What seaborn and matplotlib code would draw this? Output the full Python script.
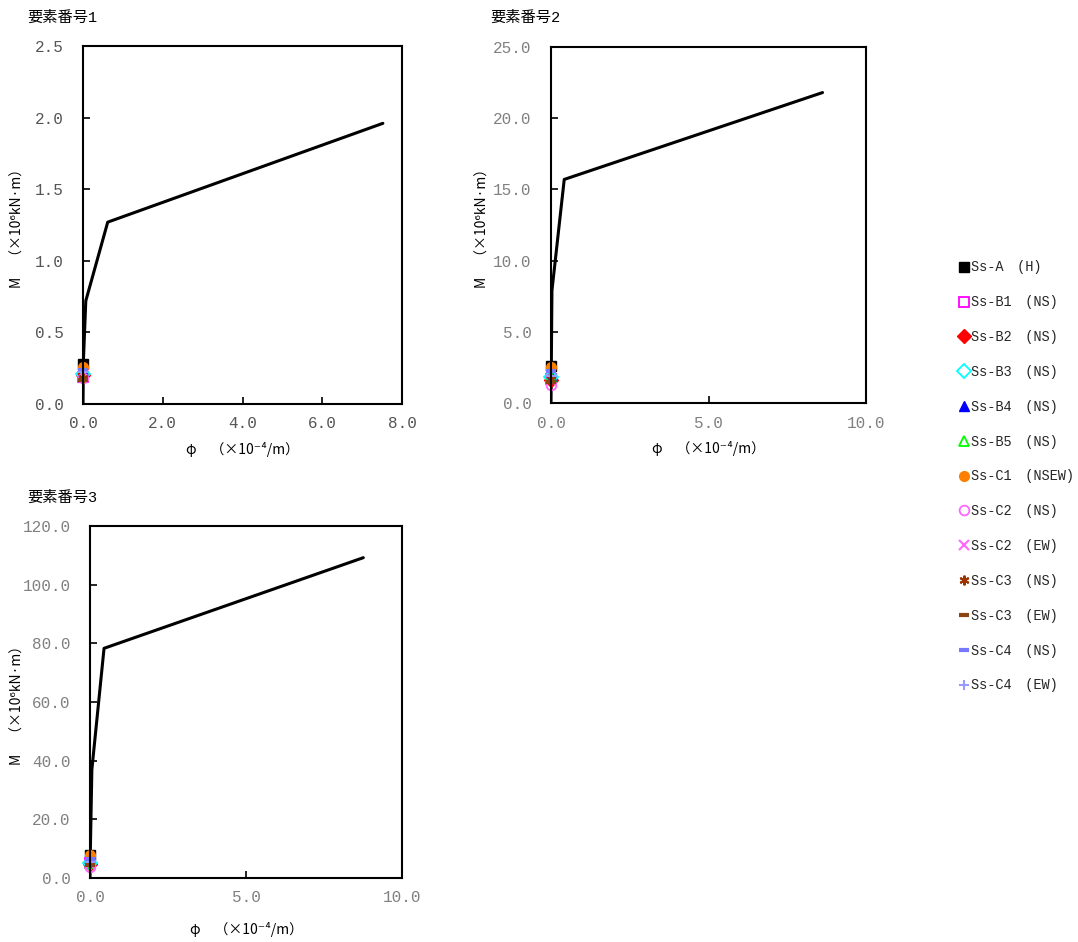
import numpy as np
import matplotlib
matplotlib.use("Agg")
import matplotlib.pyplot as plt
import seaborn as sns

# skeleton curves (phi x1e-4/m, M x1e6 kN.m)
phi_skel_1 = [0.0, 0.01, 0.07, 0.62, 7.52]
m_skel_1 = [0.0, 0.30, 0.72, 1.27, 1.96]
phi_skel_2 = [0.0, 0.01, 0.03, 0.42, 8.62]
m_skel_2 = [0.0, 2.7, 7.9, 15.7, 21.8]
phi_skel_3 = [0.0, 0.01, 0.06, 0.45, 8.76]
m_skel_3 = [0.0, 8.5, 37.0, 78.3, 109.2]

# response points per earthquake
eq_labels = ["Ss-A\u3000(H)", "Ss-B1\u3000(NS)", "Ss-B2\u3000(NS)", "Ss-B3\u3000(NS)",
             "Ss-B4\u3000(NS)", "Ss-B5\u3000(NS)", "Ss-C1\u3000(NSEW)", "Ss-C2\u3000(NS)",
             "Ss-C2\u3000(EW)", "Ss-C3\u3000(NS)", "Ss-C3\u3000(EW)", "Ss-C4\u3000(NS)",
             "Ss-C4\u3000(EW)"]
phi_resp_1 = [0.012, 0.008, 0.008, 0.009, 0.009, 0.009, 0.011, 0.007, 0.009, 0.008, 0.007, 0.010, 0.009]
m_resp_1 = [0.28, 0.19, 0.20, 0.21, 0.22, 0.20, 0.26, 0.18, 0.21, 0.18, 0.17, 0.24, 0.22]
phi_resp_2 = [0.010, 0.006, 0.006, 0.007, 0.007, 0.007, 0.009, 0.005, 0.006, 0.006, 0.005, 0.008, 0.007]
m_resp_2 = [2.6, 1.7, 1.6, 1.8, 1.9, 1.8, 2.5, 1.25, 1.6, 1.7, 1.45, 2.25, 1.9]
phi_resp_3 = [0.012, 0.008, 0.008, 0.008, 0.009, 0.008, 0.012, 0.006, 0.008, 0.008, 0.007, 0.010, 0.009]
m_resp_3 = [7.8, 5.0, 4.8, 5.2, 5.6, 5.2, 8.0, 3.8, 4.8, 5.0, 4.5, 6.6, 5.5]

# marker styles: (marker, color, filled)
styles = [("s", "#000000", True), ("s", "#FF00FF", False), ("D", "#FF0000", True),
          ("D", "#00FFFF", False), ("^", "#0000FF", True), ("^", "#00FF00", False),
          ("o", "#FF7F00", True), ("o", "#FF66FF", False), ("x", "#FF66FF", True),
          ((6, 2, 0), "#993300", True), ("_", "#8B4513", True), ("_", "#7777FF", True),
          ("+", "#9999FF", True)]

sns.set_theme(style="white")
plt.rcParams["font.family"] = ["Liberation Mono", "Noto Sans CJK JP", "DejaVu Sans"]
plt.rcParams["axes.unicode_minus"] = False
label_family = ["Noto Sans CJK JP", "DejaVu Sans"]

fig = plt.figure(figsize=(10.78, 9.42), dpi=100)

panels = [
    dict(rect=[83 / 1078, 1 - 404 / 942, 319 / 1078, 358 / 942], title="要素番号1", tpos=(27, 18),
         skel=(phi_skel_1, m_skel_1), resp=(phi_resp_1, m_resp_1),
         xlim=8.0, xticks=[0, 2, 4, 6, 8], ylim=2.5, yticks=np.arange(0, 2.51, 0.5),
         tcolor="#555555", ylx=-0.182, xly=-0.105),
    dict(rect=[551 / 1078, 1 - 403 / 942, 315 / 1078, 356 / 942], title="要素番号2", tpos=(490, 18),
         skel=(phi_skel_2, m_skel_2), resp=(phi_resp_2, m_resp_2),
         xlim=10.0, xticks=[0, 5, 10], ylim=25.0, yticks=np.arange(0, 25.1, 5),
         tcolor="#808080", ylx=-0.194, xly=-0.108),
    dict(rect=[90 / 1078, 1 - 878 / 942, 312 / 1078, 352 / 942], title="要素番号3", tpos=(27, 498),
         skel=(phi_skel_3, m_skel_3), resp=(phi_resp_3, m_resp_3),
         xlim=10.0, xticks=[0, 5, 10], ylim=120.0, yticks=np.arange(0, 120.1, 20),
         tcolor="#808080", ylx=-0.208, xly=-0.124),
]

handles = []
for p in panels:
    ax = fig.add_axes(p["rect"])
    sns.lineplot(x=p["skel"][0], y=p["skel"][1], ax=ax, color="black", lw=2.2,
                 sort=False, estimator=None)
    hs = []
    for i, (mk, col, filled) in enumerate(styles):
        kw = dict(marker=mk, linestyle="none", markersize=7, clip_on=False)
        if mk in ("x", "+", "_") or isinstance(mk, tuple):
            kw.update(color=col, markeredgewidth=1.5 if mk != "_" else 3)
        elif filled:
            kw.update(color=col, markeredgecolor=col)
        else:
            kw.update(markerfacecolor="none", markeredgecolor=col, markeredgewidth=1.3)
        h, = ax.plot([p["resp"][0][i]], [p["resp"][1][i]], label=eq_labels[i], **kw)
        hs.append(h)
    handles = hs
    ax.set_xlim(0, p["xlim"])
    ax.set_ylim(0, p["ylim"])
    ax.set_xticks(p["xticks"])
    ax.set_xticklabels([f"{v:.1f}" for v in p["xticks"]])
    ax.set_yticks(p["yticks"])
    ax.set_yticklabels([f"{v:.1f}" for v in p["yticks"]])
    ax.tick_params(axis="both", direction="in", length=5, width=1.2, colors="black",
                   labelsize=11.5, labelcolor=p["tcolor"])
    ax.tick_params(axis="x", pad=9, bottom=True)
    ax.tick_params(axis="y", pad=14, left=True)
    for s in ax.spines.values():
        s.set_color("black")
        s.set_linewidth(1.5)
    ax.set_ylabel("M\u3000（×10\u2076kN·m）", fontsize=10, color="black", family=label_family)
    ax.yaxis.set_label_coords(p["ylx"], 0.5)
    ax.set_xlabel("φ\u3000（×10\u207b\u2074/m）", fontsize=10, color="black", family=label_family)
    ax.xaxis.set_label_coords(0.5, p["xly"])
    fig.text(p["tpos"][0] / 1078, 1 - p["tpos"][1] / 942, p["title"], fontsize=11,
             ha="left", va="center", color="black")

fig.legend(handles=handles, labels=eq_labels, loc="upper left",
           bbox_to_anchor=(953 / 1078, 1 - 255 / 942), frameon=False,
           prop={"size": 9.8}, labelspacing=1.53, handlelength=0.8, handletextpad=0.1,
           borderaxespad=0)

fig.savefig("out.png", dpi=100, facecolor="white")
